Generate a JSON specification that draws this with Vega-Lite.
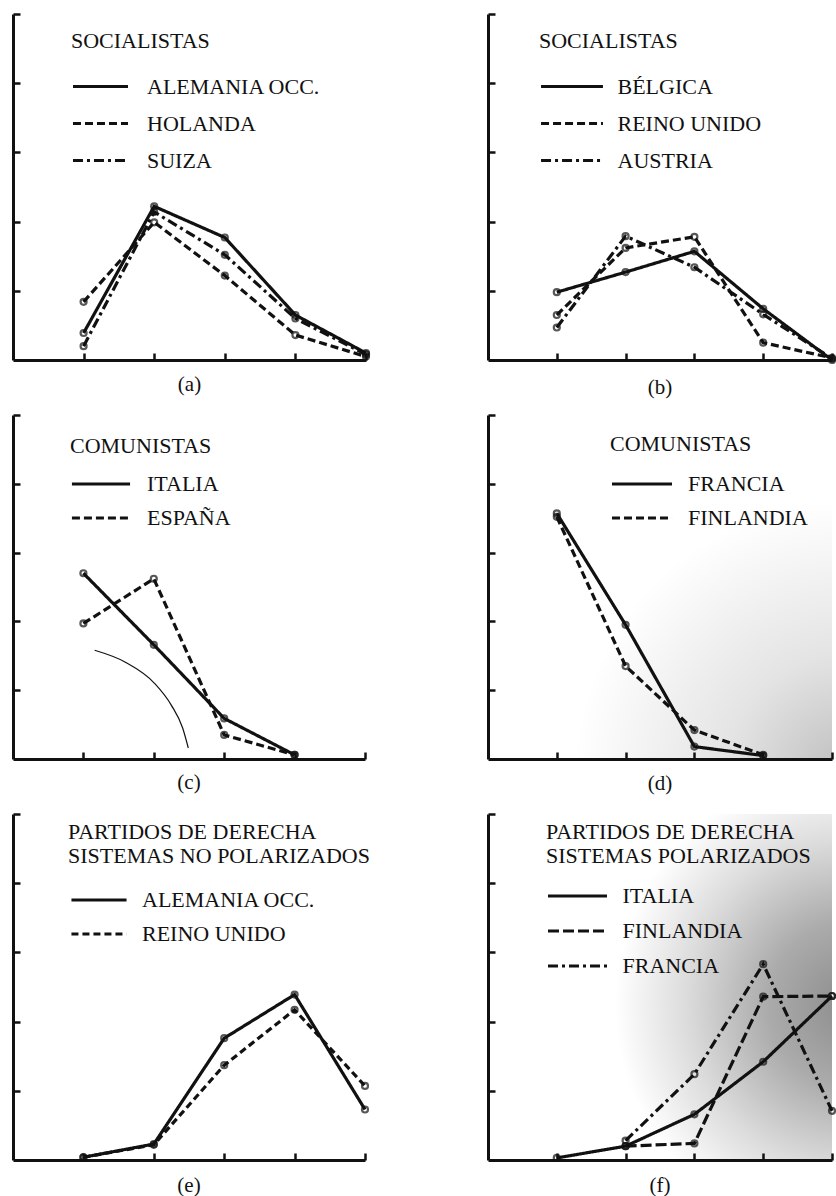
{
  "$schema": "https://vega.github.io/schema/vega-lite/v6.json",
  "background": "white",
  "padding": {"left": 11, "top": 12, "right": 0, "bottom": 0},
  "bounds": "flush",
  "columns": 2,
  "spacing": {"row": 55, "column": 122},
  "config": {
    "view": {"stroke": null},
    "font": "Liberation Serif",
    "axis": {
      "domainColor": "#111",
      "domainWidth": 3,
      "tickColor": "#111",
      "tickWidth": 2.5,
      "tickSize": -7,
      "labels": false,
      "grid": false
    },
    "title": {
      "orient": "bottom",
      "anchor": "middle",
      "font": "Liberation Serif",
      "fontSize": 21,
      "fontWeight": "normal",
      "color": "#111",
      "offset": 10
    },
    "legend": {
      "orient": "none",
      "padding": 0,
      "symbolStrokeColor": "#111",
      "symbolStrokeWidth": 3,
      "titleFont": "Liberation Serif",
      "titleFontSize": 22,
      "titleFontWeight": "normal",
      "titleColor": "#111",
      "titleLimit": 400,
      "titleLineHeight": 24,
      "labelFont": "Liberation Serif",
      "labelFontSize": 22,
      "labelColor": "#111",
      "labelLimit": 400
    },
    "line": {"color": "#111", "strokeWidth": 3.2},
    "point": {"shape": "circle", "filled": false, "color": "#111", "strokeWidth": 2.2, "size": 36}
  },
  "datasets": {
    "a": [
      {"serie": "ALEMANIA OCC.", "x": 1, "y": 0.39}, {"serie": "ALEMANIA OCC.", "x": 2, "y": 2.22}, {"serie": "ALEMANIA OCC.", "x": 3, "y": 1.77}, {"serie": "ALEMANIA OCC.", "x": 4, "y": 0.65}, {"serie": "ALEMANIA OCC.", "x": 5, "y": 0.1},
      {"serie": "HOLANDA", "x": 1, "y": 0.84}, {"serie": "HOLANDA", "x": 2, "y": 1.99}, {"serie": "HOLANDA", "x": 3, "y": 1.22}, {"serie": "HOLANDA", "x": 4, "y": 0.36}, {"serie": "HOLANDA", "x": 5, "y": 0.05},
      {"serie": "SUIZA", "x": 1, "y": 0.2}, {"serie": "SUIZA", "x": 2, "y": 2.14}, {"serie": "SUIZA", "x": 3, "y": 1.52}, {"serie": "SUIZA", "x": 4, "y": 0.6}, {"serie": "SUIZA", "x": 5, "y": 0.08}
    ],
    "b": [
      {"serie": "BÉLGICA", "x": 1, "y": 0.98}, {"serie": "BÉLGICA", "x": 2, "y": 1.27}, {"serie": "BÉLGICA", "x": 3, "y": 1.57}, {"serie": "BÉLGICA", "x": 4, "y": 0.74}, {"serie": "BÉLGICA", "x": 5, "y": 0.0},
      {"serie": "REINO UNIDO", "x": 1, "y": 0.65}, {"serie": "REINO UNIDO", "x": 2, "y": 1.62}, {"serie": "REINO UNIDO", "x": 3, "y": 1.78}, {"serie": "REINO UNIDO", "x": 4, "y": 0.25}, {"serie": "REINO UNIDO", "x": 5, "y": 0.03},
      {"serie": "AUSTRIA", "x": 1, "y": 0.47}, {"serie": "AUSTRIA", "x": 2, "y": 1.79}, {"serie": "AUSTRIA", "x": 3, "y": 1.34}, {"serie": "AUSTRIA", "x": 4, "y": 0.66}, {"serie": "AUSTRIA", "x": 5, "y": 0.02}
    ],
    "c": [
      {"serie": "ITALIA", "x": 1, "y": 2.7}, {"serie": "ITALIA", "x": 2, "y": 1.66}, {"serie": "ITALIA", "x": 3, "y": 0.59}, {"serie": "ITALIA", "x": 4, "y": 0.06},
      {"serie": "ESPAÑA", "x": 1, "y": 1.97}, {"serie": "ESPAÑA", "x": 2, "y": 2.62}, {"serie": "ESPAÑA", "x": 3, "y": 0.35}, {"serie": "ESPAÑA", "x": 4, "y": 0.06}
    ],
    "c_arco": [
      {"x": 1.16, "y": 1.58}, {"x": 1.59, "y": 1.41}, {"x": 2.01, "y": 1.1}, {"x": 2.25, "y": 0.78}, {"x": 2.41, "y": 0.45}, {"x": 2.49, "y": 0.16}
    ],
    "d": [
      {"serie": "FRANCIA", "x": 1, "y": 3.57}, {"serie": "FRANCIA", "x": 2, "y": 1.95}, {"serie": "FRANCIA", "x": 3, "y": 0.18}, {"serie": "FRANCIA", "x": 4, "y": 0.05},
      {"serie": "FINLANDIA", "x": 1, "y": 3.52}, {"serie": "FINLANDIA", "x": 2, "y": 1.35}, {"serie": "FINLANDIA", "x": 3, "y": 0.42}, {"serie": "FINLANDIA", "x": 4, "y": 0.06}
    ],
    "e": [
      {"serie": "ALEMANIA OCC.", "x": 1, "y": 0.04}, {"serie": "ALEMANIA OCC.", "x": 2, "y": 0.23}, {"serie": "ALEMANIA OCC.", "x": 3, "y": 1.76}, {"serie": "ALEMANIA OCC.", "x": 4, "y": 2.39}, {"serie": "ALEMANIA OCC.", "x": 5, "y": 0.73},
      {"serie": "REINO UNIDO", "x": 1, "y": 0.04}, {"serie": "REINO UNIDO", "x": 2, "y": 0.22}, {"serie": "REINO UNIDO", "x": 3, "y": 1.37}, {"serie": "REINO UNIDO", "x": 4, "y": 2.17}, {"serie": "REINO UNIDO", "x": 5, "y": 1.07}
    ],
    "f": [
      {"serie": "ITALIA", "x": 1, "y": 0.03}, {"serie": "ITALIA", "x": 2, "y": 0.2}, {"serie": "ITALIA", "x": 3, "y": 0.66}, {"serie": "ITALIA", "x": 4, "y": 1.42}, {"serie": "ITALIA", "x": 5, "y": 2.37},
      {"serie": "FINLANDIA", "x": 2, "y": 0.2}, {"serie": "FINLANDIA", "x": 3, "y": 0.24}, {"serie": "FINLANDIA", "x": 4, "y": 2.36}, {"serie": "FINLANDIA", "x": 5, "y": 2.37},
      {"serie": "FRANCIA", "x": 2, "y": 0.28}, {"serie": "FRANCIA", "x": 3, "y": 1.24}, {"serie": "FRANCIA", "x": 4, "y": 2.83}, {"serie": "FRANCIA", "x": 5, "y": 0.71}
    ]
  },
  "resolve": {"scale": {"x": "independent", "y": "independent", "strokeDash": "independent"}, "legend": {"strokeDash": "independent"}},
  "concat": [
    {
      "width": 353, "height": 346,
      "title": "(a)",
      "data": {"name": "a"},
      "encoding": {
        "x": {"field": "x", "type": "quantitative", "title": null, "scale": {"domain": [0, 5], "nice": false}, "axis": {"values": [1, 2, 3, 4, 5]}},
        "y": {"field": "y", "type": "quantitative", "title": null, "scale": {"domain": [0, 5], "nice": false}, "axis": {"values": [1, 2, 3, 4, 5]}}
      },
      "layer": [
        {
          "mark": {"type": "line"},
          "encoding": {
            "strokeDash": {
              "field": "serie", "type": "nominal", "sort": null,
              "scale": {"domain": ["ALEMANIA OCC.", "HOLANDA", "SUIZA"], "range": [[1, 0], [8, 4], [10, 4, 3, 4]]},
              "legend": {"title": "SOCIALISTAS", "legendX": 58, "legendY": 17, "symbolType": "M-1.28,0H1.28", "symbolSize": 1849, "symbolOffset": 6, "labelOffset": 23, "titlePadding": 10}
            }
          }
        },
        {"mark": {"type": "point"}, "encoding": {"detail": {"field": "serie"}}}
      ]
    },
    {
      "width": 344, "height": 346,
      "title": "(b)",
      "data": {"name": "b"},
      "encoding": {
        "x": {"field": "x", "type": "quantitative", "title": null, "scale": {"domain": [0, 5], "nice": false}, "axis": {"values": [1, 2, 3, 4, 5]}},
        "y": {"field": "y", "type": "quantitative", "title": null, "scale": {"domain": [0, 5], "nice": false}, "axis": {"values": [1, 2, 3, 4, 5]}}
      },
      "layer": [
        {
          "mark": {"type": "line"},
          "encoding": {
            "strokeDash": {
              "field": "serie", "type": "nominal", "sort": null,
              "scale": {"domain": ["BÉLGICA", "REINO UNIDO", "AUSTRIA"], "range": [[1, 0], [8, 4], [10, 4, 3, 4]]},
              "legend": {"title": "SOCIALISTAS", "legendX": 51, "legendY": 17, "symbolType": "M-1.44,0H1.44", "symbolSize": 1849, "symbolOffset": 9.5, "labelOffset": 22, "titlePadding": 10}
            }
          }
        },
        {"mark": {"type": "point"}, "encoding": {"detail": {"field": "serie"}}}
      ]
    },
    {
      "width": 352, "height": 344,
      "title": "(c)",
      "encoding": {
        "x": {"field": "x", "type": "quantitative", "title": null, "scale": {"domain": [0, 5], "nice": false}, "axis": {"values": [1, 2, 3, 4, 5]}},
        "y": {"field": "y", "type": "quantitative", "title": null, "scale": {"domain": [0, 5], "nice": false}, "axis": {"values": [1, 2, 3, 4, 5]}}
      },
      "layer": [
        {
          "data": {"name": "c_arco"},
          "mark": {"type": "line", "strokeWidth": 1.2, "interpolate": "monotone"}
        },
        {
          "data": {"name": "c"},
          "mark": {"type": "line"},
          "encoding": {
            "strokeDash": {
              "field": "serie", "type": "nominal", "sort": null,
              "scale": {"domain": ["ITALIA", "ESPAÑA"], "range": [[1, 0], [8, 4]]},
              "legend": {"title": "COMUNISTAS", "legendX": 57, "legendY": 21, "symbolType": "M-1.53,0H1.53", "symbolSize": 1444, "symbolOffset": 10, "labelOffset": 25, "titlePadding": 5}
            }
          }
        },
        {"data": {"name": "c"}, "mark": {"type": "point"}, "encoding": {"detail": {"field": "serie"}}}
      ]
    },
    {
      "width": 344, "height": 344,
      "title": "(d)",
      "data": {"name": "d"},
      "view": {
        "fill": {
          "gradient": "radial",
          "x1": 1.05, "y1": 1.05, "r1": 0,
          "x2": 1.05, "y2": 1.05, "r2": 0.8,
          "stops": [
            {"offset": 0, "color": "#bdbdbd"},
            {"offset": 0.45, "color": "#e4e4e4"},
            {"offset": 1, "color": "#ffffff"}
          ]
        }
      },
      "encoding": {
        "x": {"field": "x", "type": "quantitative", "title": null, "scale": {"domain": [0, 5], "nice": false}, "axis": {"values": [1, 2, 3, 4, 5]}},
        "y": {"field": "y", "type": "quantitative", "title": null, "scale": {"domain": [0, 5], "nice": false}, "axis": {"values": [1, 2, 3, 4, 5]}}
      },
      "layer": [
        {
          "mark": {"type": "line"},
          "encoding": {
            "strokeDash": {
              "field": "serie", "type": "nominal", "sort": null,
              "scale": {"domain": ["FRANCIA", "FINLANDIA"], "range": [[1, 0], [8, 4]]},
              "legend": {"title": "COMUNISTAS", "legendX": 122, "legendY": 19, "symbolType": "M-1.58,0H1.58", "symbolSize": 1444, "symbolOffset": 11, "labelOffset": 25, "titlePadding": 7}
            }
          }
        },
        {"mark": {"type": "point"}, "encoding": {"detail": {"field": "serie"}}}
      ]
    },
    {
      "width": 352, "height": 346,
      "title": "(e)",
      "data": {"name": "e"},
      "encoding": {
        "x": {"field": "x", "type": "quantitative", "title": null, "scale": {"domain": [0, 5], "nice": false}, "axis": {"values": [1, 2, 3, 4, 5]}},
        "y": {"field": "y", "type": "quantitative", "title": null, "scale": {"domain": [0, 5], "nice": false}, "axis": {"values": [1, 2, 3, 4, 5]}}
      },
      "layer": [
        {
          "mark": {"type": "line"},
          "encoding": {
            "strokeDash": {
              "field": "serie", "type": "nominal", "sort": null,
              "scale": {"domain": ["ALEMANIA OCC.", "REINO UNIDO"], "range": [[1, 0], [7, 4]]},
              "legend": {"title": ["PARTIDOS DE DERECHA", "SISTEMAS NO POLARIZADOS"], "legendX": 55, "legendY": 8, "symbolType": "M-1.45,0H1.45", "symbolSize": 1444, "symbolOffset": 10, "labelOffset": 22, "titlePadding": 11}
            }
          }
        },
        {"mark": {"type": "point"}, "encoding": {"detail": {"field": "serie"}}}
      ]
    },
    {
      "width": 344, "height": 346,
      "title": "(f)",
      "data": {"name": "f"},
      "view": {
        "fill": {
          "gradient": "radial",
          "x1": 1.05, "y1": 0.55, "r1": 0,
          "x2": 1.05, "y2": 0.55, "r2": 0.68,
          "stops": [
            {"offset": 0, "color": "#8c8c8c"},
            {"offset": 0.35, "color": "#ababab"},
            {"offset": 0.7, "color": "#dcdcdc"},
            {"offset": 1, "color": "#ffffff"}
          ]
        }
      },
      "encoding": {
        "x": {"field": "x", "type": "quantitative", "title": null, "scale": {"domain": [0, 5], "nice": false}, "axis": {"values": [1, 2, 3, 4, 5]}},
        "y": {"field": "y", "type": "quantitative", "title": null, "scale": {"domain": [0, 5], "nice": false}, "axis": {"values": [1, 2, 3, 4, 5]}}
      },
      "layer": [
        {
          "mark": {"type": "line"},
          "encoding": {
            "strokeDash": {
              "field": "serie", "type": "nominal", "sort": null,
              "scale": {"domain": ["ITALIA", "FINLANDIA", "FRANCIA"], "range": [[1, 0], [11, 4], [10, 4, 3, 4]]},
              "legend": {"title": ["PARTIDOS DE DERECHA", "SISTEMAS POLARIZADOS"], "legendX": 58, "legendY": 8, "symbolType": "M-1.475,0H1.475", "symbolSize": 1600, "symbolOffset": 9.5, "labelOffset": 23, "titlePadding": 6}
            }
          }
        },
        {"mark": {"type": "point"}, "encoding": {"detail": {"field": "serie"}}}
      ]
    }
  ]
}
